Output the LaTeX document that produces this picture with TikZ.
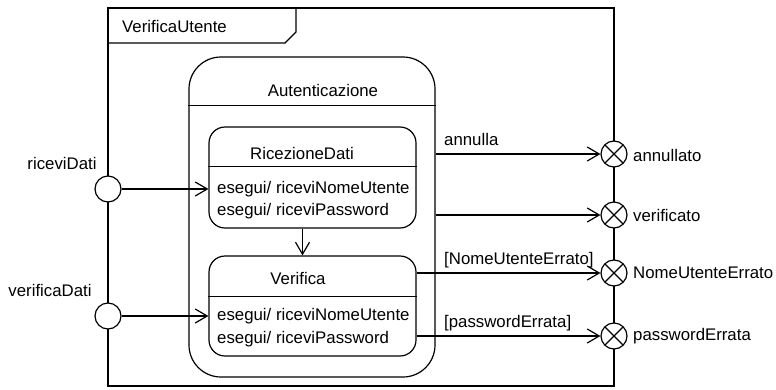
\documentclass[tikz,border=0pt]{standalone}
\usepackage{fontspec}
\setmainfont{Liberation Sans}
\usetikzlibrary{arrows.meta}

\tikzset{
	bordo/.style={line width=1.2pt},
	stato/.style={draw,rectangle,line width=1.2pt,inner sep=0pt},
	punto/.style={draw,circle,fill=white,minimum size=26pt,inner sep=0pt,line width=1.2pt},
	uscita/.style={punto,path picture={
		\draw[line width=1.2pt] (path picture bounding box.north west) -- (path picture bounding box.south east)
		(path picture bounding box.north east) -- (path picture bounding box.south west);}},
	testo/.style={inner sep=0pt,font=\fontsize{16.8}{20}\selectfont},
	etich/.style={testo,pos=0,anchor=base west,yshift=9pt},
	trans/.style={-{Straight Barb[length=12pt,width=14pt]},line width=1.2pt},
}

\begin{document}
\begin{tikzpicture}[x=1pt,y=-1pt]
	\useasboundingbox (0,0) rectangle (776,389);
	%
	%  CORNICE
	%
	\draw[bordo] (108,8) rectangle (614,386);
	\draw[bordo] (108,43) -- (285,43) -- (296,32) -- (296,8);
	\node[testo,anchor=west] (T) at (122,26) {VerificaUtente};
	%
	%  STATI
	%
	\node[stato,minimum width=246pt,minimum height=320pt,rounded corners=32pt] (A) at (312,217) {};
	\node[stato,minimum width=207pt,minimum height=101pt,rounded corners=16pt] (R) at (312.5,177.5) {};
	\node[stato,minimum width=207pt,minimum height=100pt,rounded corners=16pt] (V) at (312.5,306) {};
	\draw[bordo] ([yshift=-49pt]A.north west) -- ([yshift=-49pt]A.north east);
	\draw[bordo] ([yshift=-40pt]R.north west) -- ([yshift=-40pt]R.north east);
	\draw[bordo] ([yshift=-41pt]V.north west) -- ([yshift=-41pt]V.north east);
	\node[testo] (A0) at (323,90) {Autenticazione};
	\node[testo] (R0) at (302,153) {RicezioneDati};
	\node[testo,anchor=west] (R1) at (217,189) {esegui/ riceviNomeUtente};
	\node[testo,anchor=west] (R2) at (217,211) {esegui/ riceviPassword};
	\node[testo] (V0) at (298,278) {Verifica};
	\node[testo,anchor=west] (V1) at (217,316) {esegui/ riceviNomeUtente};
	\node[testo,anchor=west] (V2) at (217,339) {esegui/ riceviPassword};
	%
	%  PUNTI DI INGRESSO E USCITA
	%
	\node[punto] (E1) at (108,189) {};
	\node[punto] (E2) at (108,316) {};
	\node[uscita] (U1) at (614,154) {};
	\node[uscita] (U2) at (614,215) {};
	\node[uscita] (U3) at (614,273) {};
	\node[uscita] (U4) at (614,336) {};
	\node[testo] (L1) at (62,163) {riceviDati};
	\node[testo] (L2) at (50,290) {verificaDati};
	\node[testo,anchor=west] (L3) at (633,155) {annullato};
	\node[testo,anchor=west] (L4) at (633,215) {verificato};
	\node[testo,anchor=west] (L5) at (633,273) {NomeUtenteErrato};
	\node[testo,anchor=west] (L6) at (633,336) {passwordErrata};
	%
	\path[trans]
	(E1) edge (R.west |- E1)
	(E2) edge (V.west |- E2)
	([xshift=-10pt]R.south) edge ([xshift=-10pt]V.north)
	(A.east |- U1) edge node[etich,xshift=8pt]{annulla} (U1)
	(A.east |- U2) edge (U2)
	(V.east |- U3) edge node[etich,xshift=27pt]{[NomeUtenteErrato]} (U3)
	(V.east |- U4) edge node[etich,xshift=27pt]{[passwordErrata]} (U4);
\end{tikzpicture}
\end{document}
